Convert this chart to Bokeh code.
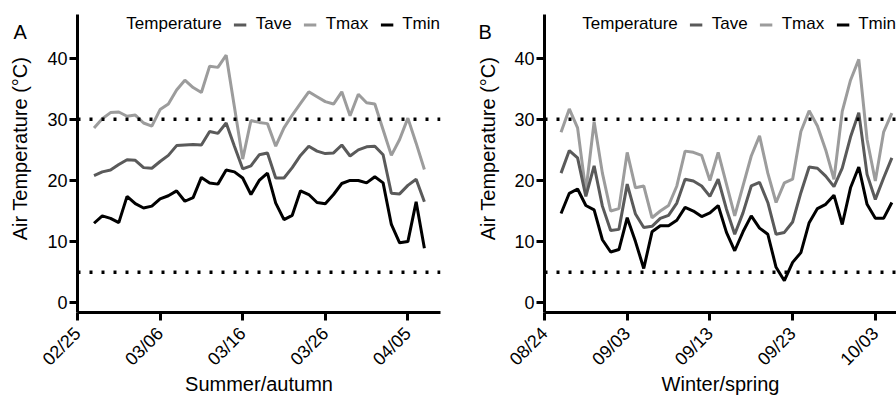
import math
from bokeh.plotting import figure
from bokeh.layouts import row
from bokeh.models import Range1d, FixedTicker, Span, Legend, LegendItem, Label
from bokeh.embed import file_html
from bokeh.resources import INLINE

# ---------------- data ----------------
# day offsets from the first tick date (02/25 for A, 08/24 for B)
days = list(range(2, 43))

a_tmax = [28.6, 30.1, 31.1, 31.2, 30.5, 30.7, 29.4, 28.9, 31.6, 32.5, 34.8, 36.4, 35.2, 34.4,
          38.7, 38.5, 40.5, 32.0, 23.5, 29.8, 29.5, 29.3, 25.6, 28.6, 30.7, 32.6, 34.5, 33.7,
          32.9, 32.5, 34.5, 30.6, 34.1, 32.7, 32.5, 28.3, 24.1, 26.7, 30.2, 26.1, 21.8]
a_tave = [20.8, 21.4, 21.7, 22.6, 23.4, 23.3, 22.1, 22.0, 23.1, 24.1, 25.7, 25.8, 25.9, 25.8,
          28.0, 27.7, 29.4, 25.6, 21.9, 22.4, 24.2, 24.5, 20.4, 20.4, 22.1, 24.1, 25.6, 24.8,
          24.4, 24.5, 25.8, 24.0, 25.0, 25.5, 25.6, 24.2, 17.9, 17.8, 19.2, 20.2, 16.5]
a_tmin = [13.0, 14.2, 13.8, 13.1, 17.4, 16.2, 15.5, 15.8, 17.0, 17.5, 18.3, 16.6, 17.2, 20.5,
          19.6, 19.4, 21.7, 21.4, 20.4, 17.7, 20.0, 21.2, 16.3, 13.6, 14.3, 18.3, 17.7, 16.4,
          16.2, 17.7, 19.5, 20.0, 20.0, 19.6, 20.6, 19.6, 12.8, 9.8, 10.0, 16.5, 8.9]

b_tmax = [27.9, 31.7, 28.6, 18.2, 29.6, 21.2, 15.0, 15.4, 24.6, 18.8, 19.1, 13.9, 15.0, 15.9,
          19.1, 24.8, 24.6, 24.1, 20.0, 24.6, 19.4, 14.2, 19.1, 24.0, 27.3, 21.2, 16.4, 19.6,
          20.2, 28.0, 31.4, 28.9, 25.0, 20.2, 31.3, 36.4, 39.8, 26.7, 19.9, 27.9, 31.0]
b_tave = [21.2, 24.9, 23.7, 17.4, 22.4, 15.8, 11.8, 12.0, 19.4, 14.5, 12.3, 12.5, 13.8, 14.3,
          16.3, 20.2, 19.9, 19.1, 17.4, 20.2, 15.3, 11.2, 14.7, 19.1, 19.7, 16.4, 11.2, 11.5,
          13.2, 18.0, 22.2, 22.0, 20.7, 19.0, 22.0, 27.1, 31.1, 21.0, 16.9, 20.4, 23.7]
b_tmin = [14.6, 17.9, 18.6, 15.9, 15.2, 10.3, 8.3, 8.7, 13.9, 10.0, 5.6, 11.6, 12.6, 12.6,
          13.5, 15.6, 15.0, 14.1, 14.7, 15.9, 11.5, 8.5, 11.6, 14.2, 12.2, 11.2, 5.8, 3.6,
          6.6, 8.2, 13.1, 15.4, 16.1, 17.6, 12.8, 18.8, 22.2, 16.1, 13.8, 13.8, 16.4]

tick_days = [0, 10, 20, 30, 40]
a_tick_labels = ["02/25", "03/06", "03/16", "03/26", "04/05"]
b_tick_labels = ["08/24", "09/03", "09/13", "09/23", "10/03"]
y_ticks = [0, 10, 20, 30, 40]
thresholds = [30, 5]
y_title = "Air Temperature (°C)"

FONT = "Liberation Sans"
C_AVE = "#5a5a5a"
C_MAX = "#9c9c9c"
C_MIN = "#000000"
H = 398


def side(width, letter, letter_x, title_x):
    # narrow strip holding the panel letter and the vertical y-axis title (pixel coords)
    s = figure(width=width, height=H, output_backend="svg", toolbar_location=None,
               x_range=Range1d(0, width), y_range=Range1d(H, 0),
               x_axis_type=None, y_axis_type=None,
               min_border_left=0, min_border_right=0, min_border_top=0, min_border_bottom=0)
    s.outline_line_color = None
    s.grid.visible = False
    s.add_layout(Label(x=letter_x, y=23, text=letter, text_font=FONT,
                       text_font_size="20px", text_align="left", text_baseline="middle",
                       text_color="black"))
    s.add_layout(Label(x=title_x, y=179, text=y_title, angle=math.pi / 2,
                       text_font=FONT, text_font_size="20px", text_align="center",
                       text_baseline="middle", text_color="black"))
    return s


def panel(width, tmax, tave, tmin, tick_labels, xlabel, border_left, border_right, xmax):
    p = figure(width=width, height=H, output_backend="svg", toolbar_location=None,
               x_range=Range1d(0, xmax), y_range=Range1d(-1.6, 47.15),
               min_border_left=border_left, min_border_right=border_right,
               min_border_top=14, min_border_bottom=81)
    p.outline_line_color = None
    p.grid.visible = False

    for ax in (p.xaxis[0], p.yaxis[0]):
        ax.axis_line_width = 3
        ax.axis_line_color = "black"
        ax.major_tick_line_width = 3
        ax.major_tick_line_color = "black"
        ax.major_tick_out = 8
        ax.major_tick_in = 0
        ax.minor_tick_line_color = None
        ax.major_label_text_font = FONT
        ax.major_label_text_font_size = "18px"
        ax.major_label_text_color = "black"
        ax.major_label_standoff = 2

    p.xaxis.major_label_standoff = 10
    p.yaxis.ticker = FixedTicker(ticks=y_ticks)
    p.xaxis.ticker = FixedTicker(ticks=tick_days)
    p.xaxis.major_label_overrides = {t: lab for t, lab in zip(tick_days, tick_labels)}
    p.xaxis.major_label_orientation = math.pi / 4
    p.xaxis.axis_label = xlabel
    p.xaxis.axis_label_text_font = FONT
    p.xaxis.axis_label_text_font_size = "20px"
    p.xaxis.axis_label_text_font_style = "normal"
    p.xaxis.axis_label_text_color = "black"
    p.xaxis.axis_label_standoff = -6

    for t in thresholds:
        p.add_layout(Span(location=t, dimension="width", line_color="black",
                          line_width=3.5, line_dash="3 9"))

    r_max = p.line(days, tmax, line_color=C_MAX, line_width=3)
    r_ave = p.line(days, tave, line_color=C_AVE, line_width=3)
    r_min = p.line(days, tmin, line_color=C_MIN, line_width=3)
    r_dummy = p.line([], [], line_alpha=0)

    legend = Legend(items=[LegendItem(label="Temperature", renderers=[r_dummy]),
                           LegendItem(label="Tave", renderers=[r_ave]),
                           LegendItem(label="Tmax", renderers=[r_max]),
                           LegendItem(label="Tmin", renderers=[r_min])],
                    orientation="horizontal", location="top_right",
                    glyph_width=13, glyph_height=15, label_height=15,
                    label_standoff=9, spacing=12, padding=3, margin=0,
                    border_line_color=None, background_fill_alpha=0,
                    label_text_font=FONT, label_text_font_size="17px",
                    label_text_color="black")
    p.add_layout(legend)
    return p


side_a = side(34, "A", 13, 19.5)
pa = panel(414, a_tmax, a_tave, a_tmin, a_tick_labels, "Summer/autumn", 43, 8, 43.95)
side_b = side(52, "B", 30, 39.5)
pb = panel(396, b_tmax, b_tave, b_tmin, b_tick_labels, "Winter/spring", 44, 0, 42.56)

layout = row(side_a, pa, side_b, pb)
open("out.html", "w").write(file_html(layout, INLINE))
